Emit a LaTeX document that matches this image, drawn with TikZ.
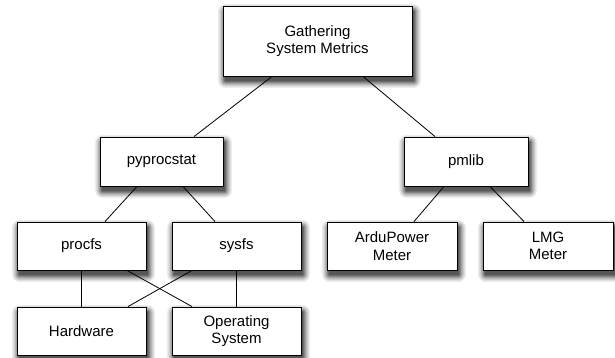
\documentclass[tikz,border=0pt]{standalone}
\usepackage{fontspec}
\setmainfont{Liberation Sans}
\begin{document}
\begin{tikzpicture}[x=1pt,y=-1pt,
  box/.style={draw=black, line width=0.9pt, fill=white, align=center,
    inner sep=0pt, font=\fontsize{15}{17.5}\selectfont},
  conn/.style={line width=0.8pt, black}]
\useasboundingbox (0,0) rectangle (615,358);
% soft shadows below the boxes
\foreach \cx/\cy/\w/\h in {317.5/41/189/70, 161.5/161.5/123/49, 466/161.5/124/49,
    81.5/246/129/48, 236.5/246/129/48, 81.5/331/129/48, 236.5/331/129/48,
    392/246/130/48, 548/246/130/48}{
  \foreach \k/\sh in {8/5,7/10,6/16,5/23,4/31,3/39,2/48,1/57,0/66}{
    \fill[black!\sh, rounded corners=\k pt]
      ({\cx-\w/2+2-0.9*\k},{\cy-\h/2+5-0.9*\k}) rectangle
      ({\cx+\w/2+2+0.9*\k},{\cy+\h/2+5+0.9*\k});
  }
}
\node[box, minimum width=189pt, minimum height=70pt] (top) at (317.5,41) {Gathering\\System Metrics};
\node[box, minimum width=123pt, minimum height=49pt] (pyp) at (161.5,161.5) {pyprocstat};
\node[box, minimum width=124pt, minimum height=49pt] (pml) at (466,161.5) {pmlib};
\node[box, minimum width=129pt, minimum height=48pt] (procfs) at (81.5,246) {procfs};
\node[box, minimum width=129pt, minimum height=48pt] (sysfs) at (236.5,246) {sysfs};
\node[box, minimum width=129pt, minimum height=48pt] (hw) at (81.5,331) {Hardware};
\node[box, minimum width=129pt, minimum height=48pt] (os) at (236.5,331) {Operating\\System};
\node[box, minimum width=130pt, minimum height=48pt] (ardu) at (392,246) {ArduPower\\Meter};
\node[box, minimum width=130pt, minimum height=48pt] (lmg) at (548,246) {LMG\\Meter};
\draw[conn] ([xshift=-45.5pt]top.south) -- ([xshift=32.5pt]pyp.north);
\draw[conn] ([xshift=45.5pt]top.south) -- ([xshift=-31pt]pml.north);
\draw[conn] ([xshift=-24.5pt]pyp.south) -- ([xshift=23.5pt]procfs.north);
\draw[conn] ([xshift=21.5pt]pyp.south) -- ([xshift=-21.5pt]sysfs.north);
\draw[conn] ([xshift=-22pt]pml.south) -- ([xshift=22pt]ardu.north);
\draw[conn] ([xshift=24pt]pml.south) -- ([xshift=-24pt]lmg.north);
\draw[conn] (procfs.south) -- (hw.north);
\draw[conn] (sysfs.south) -- (os.north);
\draw[conn] ([xshift=45.5pt]procfs.south) -- ([xshift=-44.5pt]os.north);
\draw[conn] ([xshift=-44.5pt]sysfs.south) -- ([xshift=46.5pt]hw.north);
\end{tikzpicture}
\end{document}
